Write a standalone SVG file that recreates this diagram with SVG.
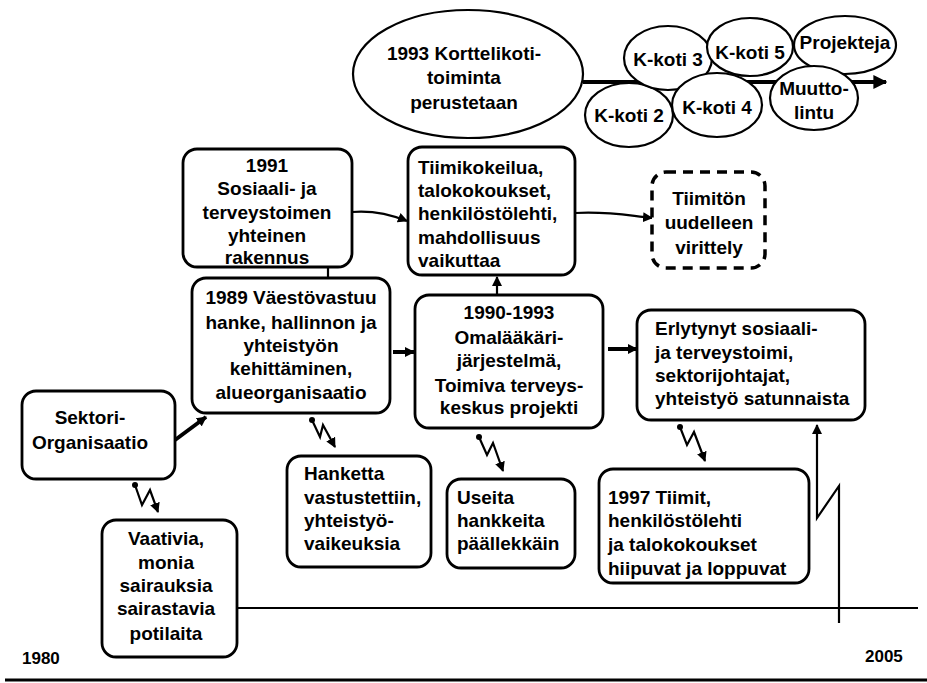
<svg xmlns="http://www.w3.org/2000/svg" width="927" height="683" viewBox="0 0 927 683">
<style>
  .box { fill: #fff; stroke: #000; stroke-width: 2.8; }
  .dash { fill: #fff; stroke: #000; stroke-width: 3.5; stroke-dasharray: 10 7; }
  .ell { fill: #fff; stroke: #000; stroke-width: 2.2; }
  .t { font-family: "Liberation Sans", Arial, sans-serif; font-weight: bold; font-size: 19px; fill: #000; }
  .c { text-anchor: middle; }
  .yr { font-family: "Liberation Sans", Arial, sans-serif; font-weight: bold; font-size: 17px; fill: #000; }
  .ln { fill: none; stroke: #000; stroke-width: 2.2; }
  .thick { fill: none; stroke: #000; stroke-width: 4; }
</style>
<defs>
  <marker id="ah" viewBox="0 0 10 10" refX="9" refY="5" markerWidth="10" markerHeight="10" markerUnits="userSpaceOnUse" orient="auto">
    <path d="M0,0 L10,5 L0,10 Z" fill="#000"/>
  </marker>
  <marker id="ahb" viewBox="0 0 10 10" refX="9" refY="5" markerWidth="14" markerHeight="14" markerUnits="userSpaceOnUse" orient="auto">
    <path d="M0,0 L10,5 L0,10 Z" fill="#000"/>
  </marker>
  <marker id="dot" viewBox="0 0 6 6" refX="3" refY="3" markerWidth="6" markerHeight="6" markerUnits="userSpaceOnUse">
    <circle cx="3" cy="3" r="3" fill="#000"/>
  </marker>
</defs>

<g id="connectors">
  <path class="thick" d="M583,82 L886,82" marker-end="url(#ahb)"/>
  <path class="ln" d="M352,212 C375,210 392,215 407,221" marker-end="url(#ah)"/>
  <path class="ln" d="M328,267 L328,278"/>
  <path class="ln" d="M575,213 C610,211 630,216 652,218" marker-end="url(#ah)"/>
  <path class="ln" d="M497,295 L497,277" marker-end="url(#ah)"/>
  <path class="thick" d="M393,352 L414,352" marker-end="url(#ah)"/>
  <path class="thick" d="M608,349 L637,349" marker-end="url(#ah)"/>
  <path class="thick" d="M175,440 L206,417" marker-end="url(#ah)"/>
  <path class="ln" d="M135,485 L142,505 L150,490 L158,512" marker-start="url(#dot)" marker-end="url(#ah)"/>
  <path class="ln" d="M312,420 L320,437 L323,425 L335,447" marker-start="url(#dot)" marker-end="url(#ah)"/>
  <path class="ln" d="M479,437 L487,455 L493,443 L503,471" marker-start="url(#dot)" marker-end="url(#ah)"/>
  <path class="ln" d="M680,427 L687,445 L694,432 L705,461" marker-start="url(#dot)" marker-end="url(#ah)"/>
  <path class="ln" d="M839,623 L839,486 L817,518 L817,425" marker-end="url(#ah)"/>
  <path class="ln" d="M237,608 L918,608"/>
  <path d="M5,680 L927,680" stroke="#000" stroke-width="3"/>
</g>

<g id="korttelikoti">
  <ellipse class="ell" cx="468" cy="74" rx="115" ry="64"/>
  <text class="t c" x="464" y="60">1993 Korttelikoti-</text>
  <text class="t c" x="464" y="84">toiminta</text>
  <text class="t c" x="464" y="109">perustetaan</text>
</g>
<g id="kkoti2">
  <ellipse class="ell" cx="629" cy="115" rx="44" ry="32"/>
  <text class="t c" x="629" y="122">K-koti 2</text>
</g>
<g id="kkoti3">
  <ellipse class="ell" cx="668" cy="58" rx="44" ry="32"/>
  <text class="t c" x="668" y="66">K-koti 3</text>
</g>
<g id="kkoti5">
  <ellipse class="ell" cx="750" cy="47" rx="43" ry="29"/>
  <text class="t c" x="750" y="59">K-koti 5</text>
</g>
<g id="projekteja">
  <ellipse class="ell" cx="845" cy="45" rx="51" ry="29"/>
  <text class="t c" x="845" y="49">Projekteja</text>
</g>
<g id="kkoti4">
  <ellipse class="ell" cx="717" cy="105" rx="45" ry="32"/>
  <text class="t c" x="717" y="114">K-koti 4</text>
</g>
<g id="muuttolintu">
  <ellipse class="ell" cx="814" cy="98" rx="44" ry="32"/>
  <text class="t c" x="814" y="95">Muutto-</text>
  <text class="t c" x="814" y="119">lintu</text>
</g>

<g id="n1991">
  <rect class="box" x="183" y="149" width="169" height="118" rx="14"/>
  <text class="t c" x="267" y="172">1991</text>
  <text class="t c" x="267" y="195">Sosiaali- ja</text>
  <text class="t c" x="267" y="219">terveystoimen</text>
  <text class="t c" x="267" y="242">yhteinen</text>
  <text class="t c" x="267" y="264">rakennus</text>
</g>
<g id="n1989">
  <rect class="box" x="192" y="278" width="198" height="135" rx="14"/>
  <text class="t c" x="291" y="304">1989 Väestövastuu</text>
  <text class="t c" x="291" y="329">hanke, hallinnon ja</text>
  <text class="t c" x="291" y="352">yhteistyön</text>
  <text class="t c" x="291" y="375">kehittäminen,</text>
  <text class="t c" x="291" y="399">alueorganisaatio</text>
</g>
<g id="tiimikokeilua">
  <rect class="box" x="408" y="147" width="167" height="128" rx="14"/>
  <text class="t" x="418" y="174">Tiimikokeilua,</text>
  <text class="t" x="418" y="197">talokokoukset,</text>
  <text class="t" x="418" y="220">henkilöstölehti,</text>
  <text class="t" x="418" y="244">mahdollisuus</text>
  <text class="t" x="418" y="267">vaikuttaa</text>
</g>
<g id="tiimiton">
  <rect class="dash" x="652" y="172" width="113" height="96" rx="14"/>
  <text class="t c" x="709" y="205">Tiimitön</text>
  <text class="t c" x="709" y="229">uudelleen</text>
  <text class="t c" x="709" y="254">virittely</text>
</g>
<g id="n1990">
  <rect class="box" x="415" y="295" width="188" height="133" rx="14"/>
  <text class="t c" x="509" y="319">1990-1993</text>
  <text class="t c" x="509" y="344">Omalääkäri-</text>
  <text class="t c" x="509" y="367">järjestelmä,</text>
  <text class="t c" x="509" y="392">Toimiva terveys-</text>
  <text class="t c" x="509" y="414">keskus projekti</text>
</g>
<g id="erlytynyt">
  <rect class="box" x="637" y="310" width="228" height="110" rx="14"/>
  <text class="t" x="655" y="335">Erlytynyt sosiaali-</text>
  <text class="t" x="655" y="359">ja terveystoimi,</text>
  <text class="t" x="655" y="382">sektorijohtajat,</text>
  <text class="t" x="655" y="405">yhteistyö satunnaista</text>
</g>
<g id="sektori">
  <rect class="box" x="22" y="391" width="153" height="88" rx="14"/>
  <text class="t c" x="90" y="424">Sektori-</text>
  <text class="t c" x="90" y="449">Organisaatio</text>
</g>
<g id="vaativia">
  <rect class="box" x="102" y="520" width="135" height="137" rx="14"/>
  <text class="t c" x="166" y="545">Vaativia,</text>
  <text class="t c" x="166" y="569">monia</text>
  <text class="t c" x="166" y="592">sairauksia</text>
  <text class="t c" x="166" y="615">sairastavia</text>
  <text class="t c" x="166" y="640">potilaita</text>
</g>
<g id="hanketta">
  <rect class="box" x="287" y="456" width="144" height="111" rx="14"/>
  <text class="t" x="304" y="480">Hanketta</text>
  <text class="t" x="304" y="504">vastustettiin,</text>
  <text class="t" x="304" y="527">yhteistyö-</text>
  <text class="t" x="304" y="550">vaikeuksia</text>
</g>
<g id="useita">
  <rect class="box" x="447" y="479" width="128" height="89" rx="14"/>
  <text class="t" x="457" y="504">Useita</text>
  <text class="t" x="457" y="527">hankkeita</text>
  <text class="t" x="457" y="550">päällekkäin</text>
</g>
<g id="n1997">
  <rect class="box" x="599" y="469" width="210" height="114" rx="14"/>
  <text class="t" x="608" y="504">1997 Tiimit,</text>
  <text class="t" x="608" y="527">henkilöstölehti</text>
  <text class="t" x="608" y="551">ja talokokoukset</text>
  <text class="t" x="608" y="575">hiipuvat ja loppuvat</text>
</g>
<g id="years">
  <text class="yr" x="22" y="664">1980</text>
  <text class="yr" x="865" y="662">2005</text>
</g>
</svg>
